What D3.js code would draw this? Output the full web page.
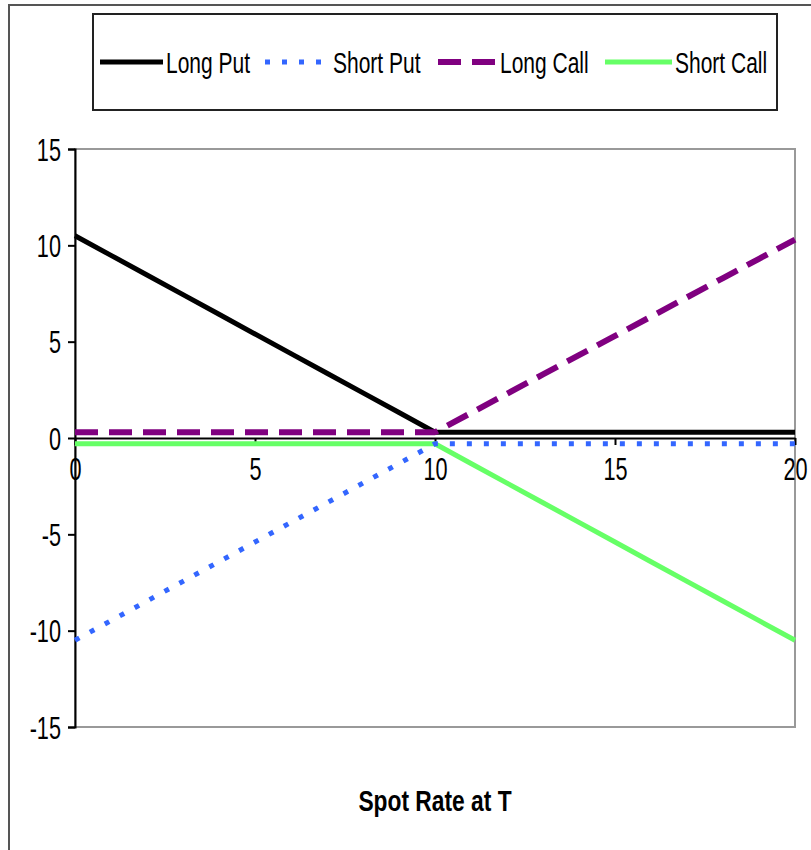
<!DOCTYPE html>
<html>
<head>
<meta charset="utf-8">
<script src="https://cdn.jsdelivr.net/npm/d3@7"></script>
<style>
  body { margin: 0; background: #fff; }
  svg text { font-family: "Liberation Sans", Arial, sans-serif; }
</style>
</head>
<body>
<div id="chart"></div>
<script>
// spot rate at T
const spot = d3.range(0, 21);

const longPut   = [10.5, 9.48, 8.46, 7.44, 6.42, 5.4, 4.38, 3.36, 2.34, 1.32, 0.3, 0.3, 0.3, 0.3, 0.3, 0.3, 0.3, 0.3, 0.3, 0.3, 0.3];
const shortPut  = [-10.5, -9.48, -8.46, -7.44, -6.42, -5.4, -4.38, -3.36, -2.34, -1.32, -0.3, -0.3, -0.3, -0.3, -0.3, -0.3, -0.3, -0.3, -0.3, -0.3, -0.3];
const longCall  = [0.3, 0.3, 0.3, 0.3, 0.3, 0.3, 0.3, 0.3, 0.3, 0.3, 0.3, 1.3, 2.3, 3.3, 4.3, 5.3, 6.3, 7.3, 8.3, 9.3, 10.3];
const shortCall = [-0.3, -0.3, -0.3, -0.3, -0.3, -0.3, -0.3, -0.3, -0.3, -0.3, -0.3, -1.32, -2.34, -3.36, -4.38, -5.4, -6.42, -7.44, -8.46, -9.48, -10.5];

const xTicks = [0, 5, 10, 15, 20];
const yTicks = [-15, -10, -5, 0, 5, 10, 15];

const series = [
    { name: "Long Put",   values: longPut,   color: "#000000", width: 5, dash: null },
    { name: "Short Put",  values: shortPut,  color: "#3366ff", width: 5, dash: "5,12" },
    { name: "Long Call",  values: longCall,  color: "#800080", width: 6, dash: "23,11" },
    { name: "Short Call", values: shortCall, color: "#66ff66", width: 5, dash: null }
];

const width = 811, height = 850;
const narrow = 0.7; // squeeze text horizontally, the original font is condensed

const svg = d3.select("#chart").append("svg")
    .attr("width", width)
    .attr("height", height);

// put a text at x,y squeezed horizontally
function squeeze(text, xPos, yPos, sx) {
    text.attr("x", 0).attr("y", 0)
        .attr("transform", `translate(${xPos},${yPos}) scale(${sx},1)`);
}

// outer chart border
svg.append("rect")
    .attr("x", 9).attr("y", 5)
    .attr("width", width + 10).attr("height", height + 10)
    .attr("fill", "none")
    .attr("stroke", "#555")
    .attr("stroke-width", 2);

const plot = { left: 75, top: 149, right: 795, bottom: 727 };

const x = d3.scaleLinear().domain([0, 20]).range([plot.left, plot.right]);
const y = d3.scaleLinear().domain([-15, 15]).range([plot.bottom, plot.top]);

// plot area frame (gray)
svg.append("rect")
    .attr("x", plot.left).attr("y", plot.top)
    .attr("width", plot.right - plot.left)
    .attr("height", plot.bottom - plot.top)
    .attr("fill", "none")
    .attr("stroke", "#999")
    .attr("stroke-width", 2);

// y axis
const yAxis = svg.append("g")
    .attr("transform", `translate(${plot.left},0)`)
    .call(d3.axisLeft(y).tickValues(yTicks).tickSize(7).tickFormat(d => String(d)));
yAxis.select(".domain").attr("stroke", "#000").attr("stroke-width", 2);
yAxis.selectAll(".tick line").attr("stroke", "#000").attr("stroke-width", 2);
yAxis.selectAll(".tick text")
    .style("font-size", "31px")
    .attr("fill", "#000")
    .attr("dy", null)
    .each(function () { squeeze(d3.select(this), -14, 11, narrow); });

// x axis at zero
const xAxis = svg.append("g")
    .attr("transform", `translate(0,${y(0)})`)
    .call(d3.axisBottom(x).tickValues(xTicks).tickSize(7).tickSizeOuter(0));
xAxis.select(".domain").attr("stroke", "#000").attr("stroke-width", 2);
xAxis.selectAll(".tick line").attr("stroke", "#000").attr("stroke-width", 2);
xAxis.selectAll(".tick text")
    .style("font-size", "31px")
    .attr("fill", "#000")
    .attr("dy", null)
    .each(function () { squeeze(d3.select(this), 0, 42, narrow); });

// lines
const line = d3.line()
    .x((d, i) => x(spot[i]))
    .y(d => y(d));

const drawOrder = [3, 1, 0, 2];
drawOrder.forEach(k => {
    const s = series[k];
    svg.append("path")
        .datum(s.values)
        .attr("d", line)
        .attr("fill", "none")
        .attr("stroke", s.color)
        .attr("stroke-width", s.width)
        .attr("stroke-dasharray", s.dash)
        .attr("stroke-linejoin", "round");
});

// x axis title
svg.append("text")
    .attr("text-anchor", "middle")
    .style("font-size", "30px")
    .style("font-weight", "bold")
    .text("Spot Rate at T")
    .call(squeeze, 435, 811, 0.76);

// legend
const legend = svg.append("g");
legend.append("rect")
    .attr("x", 93).attr("y", 14)
    .attr("width", 684).attr("height", 96)
    .attr("fill", "#fff")
    .attr("stroke", "#222")
    .attr("stroke-width", 2);

const legendLine = [[100, 163], [265, 330], [438, 497], [605, 672]];
const legendText = [166, 333, 500, 675];
series.forEach((s, i) => {
    legend.append("line")
        .attr("x1", legendLine[i][0]).attr("x2", legendLine[i][1])
        .attr("y1", 62).attr("y2", 62)
        .attr("stroke", s.color)
        .attr("stroke-width", s.width)
        .attr("stroke-dasharray", s.dash);
    legend.append("text")
        .style("font-size", "30px")
        .text(s.name)
        .call(squeeze, legendText[i], 73, narrow);
});
</script>
</body>
</html>
